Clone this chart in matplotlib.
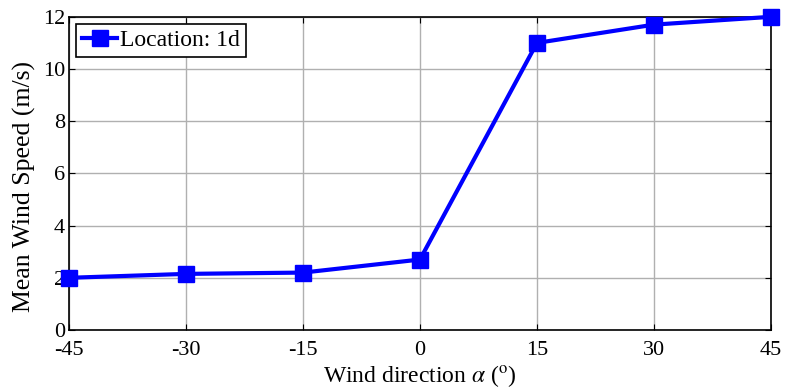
import numpy as np
import matplotlib
matplotlib.use("Agg")
import matplotlib.pyplot as plt

# wind direction vs mean wind speed
direction = [-45, -30, -15, 0, 15, 30, 45]
mean_speed = [2.0, 2.15, 2.2, 2.7, 11.0, 11.7, 12.0]
xticks = [-45, -30, -15, 0, 15, 30, 45]
yticks = [0, 2, 4, 6, 8, 10, 12]

plt.rcParams["font.family"] = ["Liberation Serif", "DejaVu Serif"]
plt.rcParams["mathtext.fontset"] = "stix"

fig = plt.figure(figsize=(7.85, 3.91), dpi=100)
ax = fig.add_axes([0.088, 0.156, 0.894, 0.801])

ax.plot(direction, mean_speed, color="blue", lw=3, marker="s",
        markersize=12, label="Location: 1d", clip_on=False, zorder=5)

ax.set_xlim(-45, 45)
ax.set_ylim(0, 12)
ax.set_xticks(xticks)
ax.set_xticklabels([str(t) for t in xticks])
ax.set_yticks(yticks)
ax.grid(True, color="#b0b0b0", lw=1)
ax.tick_params(direction="in", top=True, right=True, labelsize=16, length=4)
ax.tick_params(axis="x", pad=8)
ax.tick_params(axis="y", pad=3)
for s in ax.spines.values():
    s.set_linewidth(1.2)

ax.set_xlabel("Wind direction $\\alpha$ ($^{\\mathrm{o}}$)", fontsize=17, labelpad=2)
ax.set_ylabel("Mean Wind Speed (m/s)", fontsize=18.5)
ax.yaxis.set_label_coords(-0.047, 0.457)

leg = ax.legend(loc="upper left", fontsize=17, fancybox=False, framealpha=1,
                edgecolor="black", handlelength=1.5, handletextpad=0.1,
                borderpad=0.25, borderaxespad=0.3)
leg.get_frame().set_linewidth(1.2)

fig.savefig("out.png", dpi=100)
